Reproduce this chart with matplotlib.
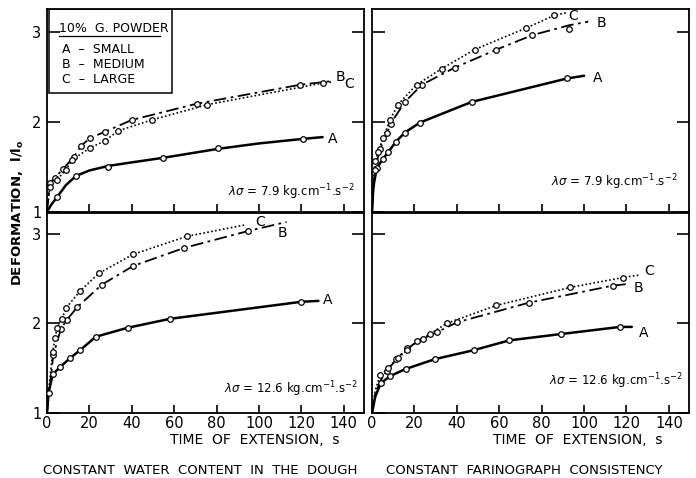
# deformation vs time of extension, 4 panels
import matplotlib
matplotlib.use("Agg")
import matplotlib.pyplot as plt
from matplotlib.patches import Rectangle

plt.rcParams['font.family'] = ['DejaVu Sans']

# ---- top left : constant water content, 7.9
tl_a_t = [4.9, 13.7, 28.8, 54.7, 80.7, 120.6]
tl_a_v = [1.17, 1.40, 1.50, 1.60, 1.71, 1.81]
tl_a_line_t = [0, 2, 4.9, 9, 13.7, 20, 28.8, 40, 54.7, 80.7, 100, 120.6, 130]
tl_a_line_v = [1, 1.08, 1.17, 1.30, 1.40, 1.46, 1.51, 1.55, 1.60, 1.70, 1.76, 1.81, 1.83]
tl_b_t = [1.4, 3.8, 7.7, 12.7, 16, 20.3, 27.4, 40, 70.6, 119.3]
tl_b_v = [1.32, 1.38, 1.48, 1.61, 1.73, 1.82, 1.89, 2.02, 2.20, 2.41]
tl_b_line_t = [0] + tl_b_t + [134]
tl_b_line_v = [1] + tl_b_v + [2.45]
tl_c_t = [1.4, 4.5, 9, 12, 20.3, 27.4, 33.6, 49.4, 75.6, 130.3]
tl_c_v = [1.28, 1.35, 1.47, 1.58, 1.71, 1.79, 1.90, 2.02, 2.19, 2.43]
tl_c_line_t = [0] + tl_c_t + [134]
tl_c_line_v = [1] + tl_c_v + [2.44]

# ---- top right : constant farinograph consistency, 7.9
tr_a_t = [2.3, 5.2, 7.5, 11.3, 15.5, 22.5, 47, 92]
tr_a_v = [1.49, 1.59, 1.66, 1.78, 1.88, 1.99, 2.22, 2.48]
tr_a_line_t = [0, 0.5, 1] + tr_a_t + [100]
tr_a_line_v = [1, 1.22, 1.33] + tr_a_v + [2.51]
tr_b_t = [1.4, 3.8, 7, 8.8, 15.5, 23.5, 39, 58.7, 75.6, 93]
tr_b_v = [1.47, 1.70, 1.87, 1.98, 2.22, 2.41, 2.60, 2.80, 2.96, 3.03]
tr_b_line_t = [0, 0.5, 1.4, 3.8, 7, 8.8, 15.5, 23.5, 39, 58.7, 75.6, 93, 102]
tr_b_line_v = [1, 1.25, 1.47, 1.70, 1.87, 1.98, 2.22, 2.41, 2.60, 2.80, 2.96, 3.07, 3.11]
tr_c_t = [1.4, 2.8, 5.2, 8.5, 12.2, 21, 33, 48.4, 72.8, 86]
tr_c_v = [1.56, 1.66, 1.82, 2.02, 2.19, 2.41, 2.59, 2.80, 3.04, 3.18]
tr_c_line_t = [0, 0.5] + tr_c_t + [92]
tr_c_line_v = [1, 1.30] + tr_c_v + [3.21]

# ---- bottom left : constant water content, 12.6
bl_a_t = [2.7, 6.1, 10.8, 15.6, 23, 38, 58, 120]
bl_a_v = [1.43, 1.51, 1.61, 1.70, 1.85, 1.95, 2.05, 2.24]
bl_a_line_t = [0, 0.7] + bl_a_t + [128]
bl_a_line_v = [1, 1.22] + bl_a_v + [2.25]
bl_b_t = [1, 3, 6.6, 9.4, 14.3, 25.8, 40.7, 64.6, 95]
bl_b_v = [1.22, 1.65, 1.94, 2.04, 2.18, 2.43, 2.64, 2.84, 3.03]
bl_b_line_t = [0] + bl_b_t + [113]
bl_b_line_v = [1] + bl_b_v + [3.13]
bl_c_t = [2.7, 3.8, 4.8, 7, 9, 15.6, 24.6, 40.7, 66]
bl_c_v = [1.68, 1.84, 1.95, 2.05, 2.17, 2.36, 2.56, 2.77, 2.97]
bl_c_line_t = [0, 1] + bl_c_t + [94]
bl_c_line_v = [1, 1.30] + bl_c_v + [3.10]

# ---- bottom right : constant farinograph consistency, 12.6
br_a_t = [4.1, 8.4, 15.8, 29.6, 47.9, 64.8, 89, 117]
br_a_v = [1.33, 1.41, 1.49, 1.60, 1.70, 1.81, 1.88, 1.96]
br_a_line_t = [0, 1.5] + br_a_t + [122.5]
br_a_line_v = [1, 1.18] + br_a_v + [1.96]
br_b_t = [7, 11.5, 16.5, 24, 30.5, 40, 74, 113.6]
br_b_v = [1.47, 1.60, 1.72, 1.83, 1.90, 2.01, 2.23, 2.42]
br_b_line_t = [0, 1.5, 4] + br_b_t + [121]
br_b_line_v = [1, 1.22, 1.36] + br_b_v + [2.44]
br_c_t = [3.8, 7.5, 12.2, 16.4, 21.1, 27.2, 35.3, 58.7, 93.4, 118.3]
br_c_v = [1.42, 1.50, 1.61, 1.70, 1.80, 1.88, 2.00, 2.20, 2.40, 2.51]
br_c_line_t = [0, 1.5] + br_c_t + [126.7]
br_c_line_v = [1, 1.25] + br_c_v + [2.54]

sigma_labels = [r'$\lambda\sigma$ = 7.9 kg.cm$^{-1}$.s$^{-2}$',
                r'$\lambda\sigma$ = 7.9 kg.cm$^{-1}$.s$^{-2}$',
                r'$\lambda\sigma$ = 12.6 kg.cm$^{-1}$.s$^{-2}$',
                r'$\lambda\sigma$ = 12.6 kg.cm$^{-1}$.s$^{-2}$']

xticks = [0, 20, 40, 60, 80, 100, 120, 140]
yticks = [1, 2, 3]

fig = plt.figure(figsize=(6.96, 4.78), dpi=100)

ax_tl = fig.add_axes([0.0675, 0.5565, 0.4555, 0.4247])
ax_tr = fig.add_axes([0.5345, 0.5565, 0.4555, 0.4247])
ax_bl = fig.add_axes([0.0675, 0.136, 0.4555, 0.4184])
ax_br = fig.add_axes([0.5345, 0.136, 0.4555, 0.4184])

dashdot = (0, (7, 2.5, 1.5, 2.5))
dotted = (0, (1, 1.4))


def draw(ax, a, b, c):
    # a, b, c = (line_t, line_v, mark_t, mark_v)
    ax.plot(a[0], a[1], color='black', lw=1.8, solid_capstyle='round')
    ax.plot(b[0], b[1], color='black', lw=1.3, linestyle=dashdot)
    ax.plot(c[0], c[1], color='black', lw=1.2, linestyle=dotted)
    for s in (a, b, c):
        ax.plot(s[2], s[3], 'o', ms=4, mfc='white', mec='black', mew=0.9, zorder=3)


draw(ax_tl, (tl_a_line_t, tl_a_line_v, tl_a_t, tl_a_v),
     (tl_b_line_t, tl_b_line_v, tl_b_t, tl_b_v),
     (tl_c_line_t, tl_c_line_v, tl_c_t, tl_c_v))
draw(ax_tr, (tr_a_line_t, tr_a_line_v, tr_a_t, tr_a_v),
     (tr_b_line_t, tr_b_line_v, tr_b_t, tr_b_v),
     (tr_c_line_t, tr_c_line_v, tr_c_t, tr_c_v))
draw(ax_bl, (bl_a_line_t, bl_a_line_v, bl_a_t, bl_a_v),
     (bl_b_line_t, bl_b_line_v, bl_b_t, bl_b_v),
     (bl_c_line_t, bl_c_line_v, bl_c_t, bl_c_v))
draw(ax_br, (br_a_line_t, br_a_line_v, br_a_t, br_a_v),
     (br_b_line_t, br_b_line_v, br_b_t, br_b_v),
     (br_c_line_t, br_c_line_v, br_c_t, br_c_v))

# curve letters
ax_tl.text(132.5, 1.81, 'A', fontsize=10, va='center')
ax_tl.text(136, 2.50, 'B', fontsize=10, va='center')
ax_tl.text(140, 2.42, 'C', fontsize=10, va='center')
ax_tr.text(104, 2.49, 'A', fontsize=10, va='center')
ax_tr.text(106, 3.09, 'B', fontsize=10, va='center')
ax_tr.text(92.5, 3.17, 'C', fontsize=10, va='center')
ax_bl.text(130, 2.26, 'A', fontsize=10, va='center')
ax_bl.text(109, 3.01, 'B', fontsize=10, va='center')
ax_bl.text(98, 3.13, 'C', fontsize=10, va='center')
ax_br.text(126, 1.89, 'A', fontsize=10, va='center')
ax_br.text(123.5, 2.39, 'B', fontsize=10, va='center')
ax_br.text(128.5, 2.58, 'C', fontsize=10, va='center')

sigma_pos = [(115, 1.22), (114, 1.33), (115, 1.27), (115, 1.35)]
axes = [ax_tl, ax_tr, ax_bl, ax_br]
for ax, lab, pos in zip(axes, sigma_labels, sigma_pos):
    ax.text(pos[0], pos[1], lab, fontsize=8.5, ha='center', va='center')

for i, ax in enumerate(axes):
    ax.set_xlim(0, 149.5)
    ax.set_ylim(1, 3.25 if i < 2 else 3.23)
    ax.set_xticks(xticks)
    ax.set_yticks(yticks)
    for sp in ax.spines.values():
        sp.set_linewidth(1.3)
    ax.tick_params(axis='x', direction='in', length=6, width=1.2, labelsize=10.5, pad=2)
    ax.tick_params(axis='y', direction='in', length=9, width=1.2, labelsize=10.5, pad=4,
                   right=True)
    if i < 2:
        ax.tick_params(axis='x', labelbottom=False)
    if i % 2 == 1:
        ax.tick_params(axis='y', labelleft=False)

# legend box in top left panel
ax_tl.add_patch(Rectangle((0.006, 0.586), 0.388, 0.414, transform=ax_tl.transAxes,
                          fill=False, lw=1.1, ec='black', zorder=4))
ax_tl.text(0.038, 0.905, '10%  G. POWDER', transform=ax_tl.transAxes, fontsize=9, va='center')
ax_tl.plot([0.038, 0.355], [0.865, 0.865], transform=ax_tl.transAxes, color='black', lw=0.9)
ax_tl.text(0.047, 0.80, 'A  \u2013  SMALL', transform=ax_tl.transAxes, fontsize=9, va='center')
ax_tl.text(0.047, 0.727, 'B  \u2013  MEDIUM', transform=ax_tl.transAxes, fontsize=9, va='center')
ax_tl.text(0.047, 0.655, 'C  \u2013  LARGE', transform=ax_tl.transAxes, fontsize=9, va='center')

# axis titles
fig.text(255 / 696, 1 - 440 / 478, 'TIME  OF  EXTENSION,  s', ha='center', va='center', fontsize=10)
fig.text(578 / 696, 1 - 440 / 478, 'TIME  OF  EXTENSION,  s', ha='center', va='center', fontsize=10)
fig.text(18 / 696, 1 - 213 / 478, r'DEFORMATION,  l/l$_\mathbf{o}$', rotation=90,
         ha='center', va='center', fontsize=9.5, fontweight='bold')
fig.text(200 / 696, 1 - 470 / 478, 'CONSTANT  WATER  CONTENT  IN  THE  DOUGH',
         ha='center', va='center', fontsize=9.5)
fig.text(524 / 696, 1 - 470 / 478, 'CONSTANT  FARINOGRAPH  CONSISTENCY',
         ha='center', va='center', fontsize=9.5)

fig.savefig('out.png', dpi=100)
